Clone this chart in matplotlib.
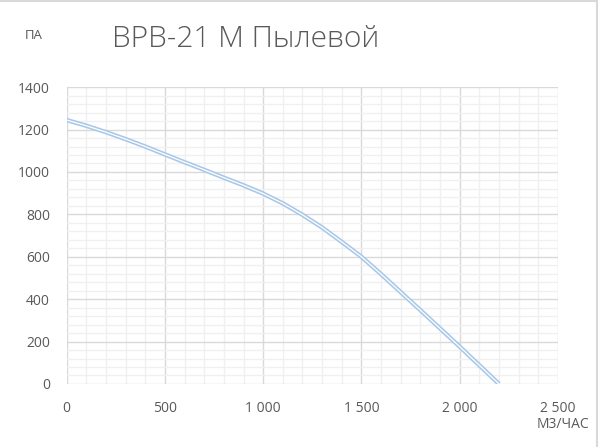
import matplotlib.pyplot as plt
from matplotlib.ticker import MultipleLocator, FuncFormatter
from matplotlib.patches import Rectangle

# flow, m3/h and pressure, Pa
flow = [0, 100, 200, 300, 400, 500, 600, 700, 800, 900, 1000, 1100,
        1200, 1300, 1400, 1500, 1600, 1700, 1800, 1900, 2000, 2100, 2200]
pressure = [1245, 1218, 1188, 1155, 1120, 1083, 1046, 1010, 973, 937, 898, 852,
            798, 738, 670, 600, 518, 433, 348, 262, 176, 88, 0]

title = 'ВРВ-21 М Пылевой'
y_label = 'ПА'
x_label = 'М3/ЧАС'

plt.rcParams['font.family'] = ['Open Sans', 'DejaVu Sans']

fig = plt.figure(figsize=(6, 4.47), dpi=100)
ax = fig.add_axes([0.111, 0.141, 0.819, 0.664])

text_col = '#595959'

# double line: light blue with white core
ax.plot(flow, pressure, color='#a9c8e8', lw=3.2, solid_capstyle='butt', zorder=3)
ax.plot(flow, pressure, color='white', lw=0.9, solid_capstyle='butt', zorder=4)

ax.set_xlim(0, 2500)
ax.set_ylim(0, 1400)
ax.xaxis.set_major_locator(MultipleLocator(500))
ax.xaxis.set_minor_locator(MultipleLocator(100))
ax.yaxis.set_major_locator(MultipleLocator(200))
ax.yaxis.set_minor_locator(MultipleLocator(40))
ax.xaxis.set_major_formatter(FuncFormatter(lambda v, p: f'{int(v):,}'.replace(',', ' ')))
ax.yaxis.set_major_formatter(FuncFormatter(lambda v, p: f'{int(v)}'))

ax.grid(which='major', color='#d9d9d9', lw=1.0)
ax.grid(which='minor', color='#f0f0f0', lw=1.0)
ax.set_axisbelow(True)
for s in ax.spines.values():
    s.set_visible(False)
ax.tick_params(which='both', length=0, colors=text_col, labelsize=10)
ax.tick_params(axis='x', pad=12)
ax.tick_params(axis='y', pad=12)

fig.text(0.41, 0.913, title, fontsize=21.5, color=text_col, ha='center', va='center',
         fontweight='light')
fig.text(0.056, 0.92, y_label, fontsize=9.5, color=text_col, ha='center', va='center')
fig.text(0.938, 0.051, x_label, fontsize=10, color=text_col, ha='center', va='center')

# chart border
fig.patches.append(Rectangle((-0.01, -0.01), 1.005, 1.007, transform=fig.transFigure,
                             fill=False, edgecolor='#d9d9d9', lw=1.5))

fig.savefig('out.png', dpi=100)
